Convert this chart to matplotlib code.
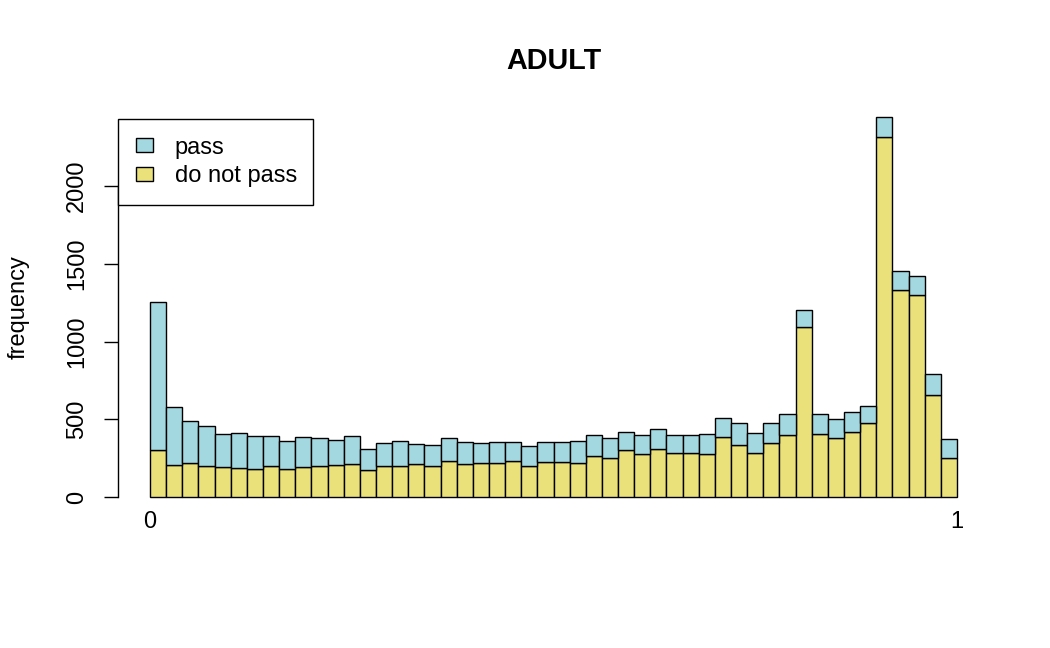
import matplotlib
matplotlib.use("Agg")
import matplotlib.pyplot as plt
import numpy as np

plt.rcParams["font.family"] = ["Liberation Sans", "DejaVu Sans"]

# histogram bins over [0, 1], 50 bins of width 0.02
bin_edges = np.linspace(0, 1, 51)

# counts, per bin
do_not_pass = [304, 207, 222, 199, 196, 190, 180, 201, 184, 194,
               203, 209, 214, 175, 199, 201, 212, 199, 235, 216,
               222, 218, 235, 203, 225, 229, 218, 267, 254, 304,
               276, 308, 282, 282, 276, 385, 336, 284, 347, 401,
               1095, 404, 379, 417, 479, 2311, 1331, 1299, 659, 250]
passed = [950, 371, 266, 259, 210, 221, 211, 190, 177, 193,
          180, 161, 182, 137, 150, 162, 130, 137, 146, 141,
          129, 139, 120, 126, 132, 126, 145, 133, 129, 117,
          124, 130, 116, 118, 128, 126, 143, 127, 130, 134,
          107, 129, 126, 129, 109, 130, 124, 124, 133, 126]

y_ticks = [0, 500, 1000, 1500, 2000]
x_ticks = [0, 1]

col_pass = "#A3D8E0"
col_fail = "#EAE17A"

fig = plt.figure(figsize=(10.5, 6.48), dpi=100)
ax = fig.add_axes([0.1121, 0.2091, 0.8301, 0.6336])

left = bin_edges[:-1]
width = np.diff(bin_edges)
ax.bar(left, do_not_pass, width=width, align="edge", color=col_fail,
       edgecolor="black", linewidth=1.0, label="do not pass")
ax.bar(left, passed, width=width, bottom=do_not_pass, align="edge",
       color=col_pass, edgecolor="black", linewidth=1.0, label="pass")

ax.set_xlim(-0.04, 1.04)
ax.set_ylim(-97.6, 2538.6)

for side in ["top", "right", "bottom"]:
    ax.spines[side].set_visible(False)
ax.spines["left"].set_bounds(0, 2000)
ax.spines["left"].set_linewidth(1.0)

ax.set_yticks(y_ticks)
ax.set_yticklabels([str(v) for v in y_ticks], rotation=90, va="center")
ax.tick_params(axis="y", length=10.4, width=1.0, pad=11, labelsize=17)
ax.set_xticks(x_ticks)
ax.set_xticklabels([str(v) for v in x_ticks])
ax.tick_params(axis="x", length=0, pad=-1, labelsize=17)

ax.set_ylabel("frequency", fontsize=17)
ax.yaxis.set_label_coords(-0.1014, 0.5)

ax.set_title("ADULT", fontsize=20.7, fontweight="bold", pad=24)

handles, labels = ax.get_legend_handles_labels()
leg = ax.legend(handles[::-1], labels[::-1], loc="upper left",
                bbox_to_anchor=(118 / 1050, 1 - 119 / 648 - 0.1, 195 / 1050, 0.1),
                bbox_transform=fig.transFigure, mode="expand",
                borderaxespad=0, fontsize=17, frameon=True, fancybox=False,
                framealpha=1, edgecolor="black", handlelength=0.72,
                handleheight=0.55, handletextpad=0.93, borderpad=0.75,
                labelspacing=0.27)
leg.get_frame().set_linewidth(1.0)

fig.savefig("out.png", dpi=100)
